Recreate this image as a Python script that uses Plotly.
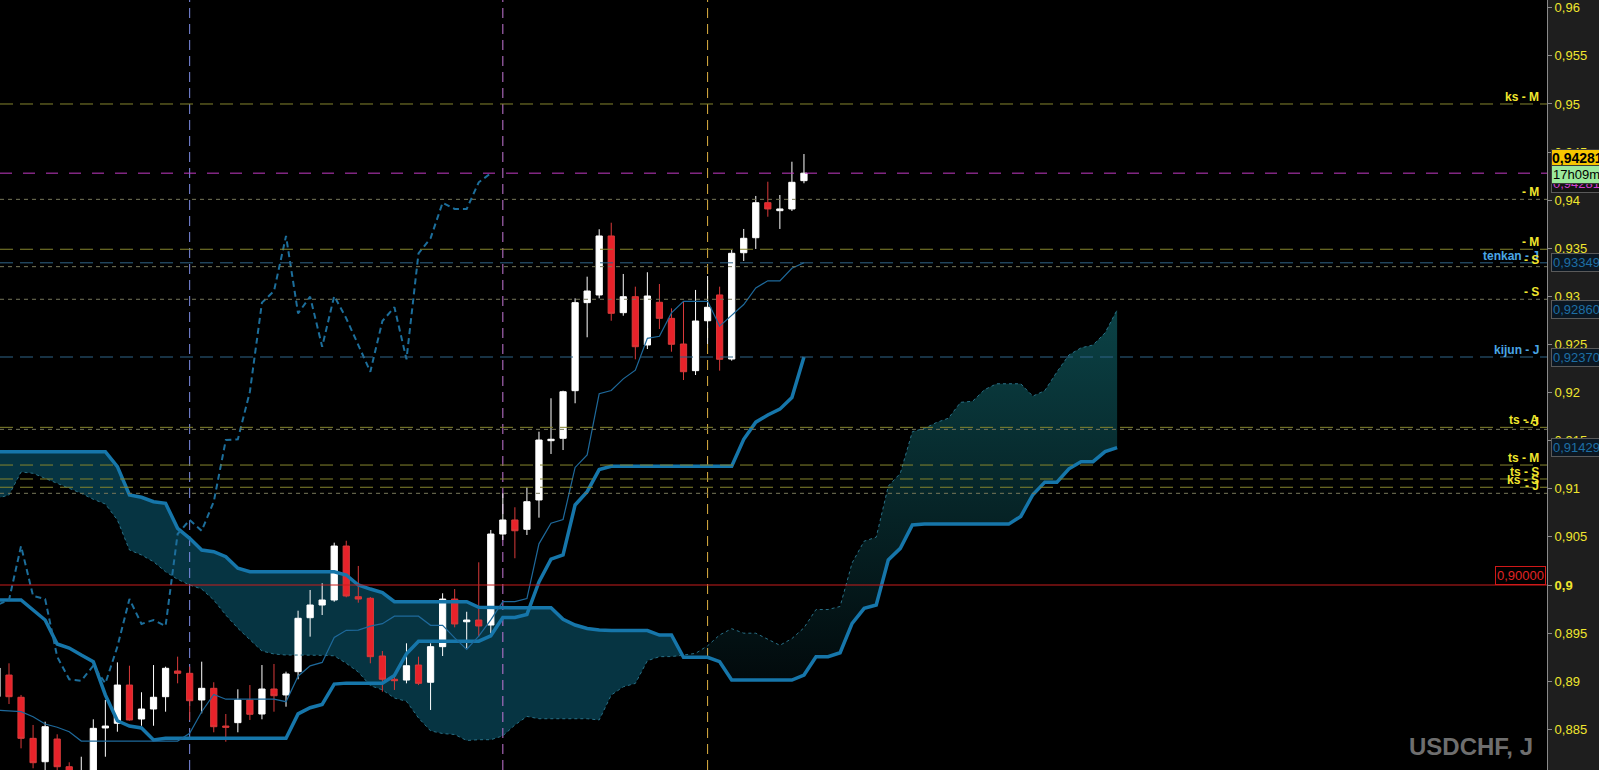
import plotly.graph_objects as go

# ---------------- data (daily USDCHF) ----------------
bars = list(range(-1, 67))
opens = [0.88840, 0.89064, 0.88833, 0.88406, 0.88163, 0.88399, 0.88111, 0.87750, 0.87900, 0.88514,
         0.88562, 0.88960, 0.88607, 0.88711, 0.88839, 0.89106, 0.89082, 0.88805, 0.88926, 0.88534,
         0.88569, 0.88805, 0.88659, 0.88919, 0.88857, 0.89099, 0.89660, 0.89792, 0.89844, 0.90405,
         0.89878, 0.89862, 0.89262, 0.89020, 0.89012, 0.89168, 0.88989, 0.89359, 0.89854, 0.89618,
         0.89636, 0.89584, 0.90530, 0.90676, 0.90579, 0.90884, 0.91500, 0.91525, 0.92020, 0.92935,
         0.93015, 0.93628, 0.92831, 0.92997, 0.92495, 0.92939, 0.92772, 0.92505, 0.92228, 0.92747,
         0.93015, 0.92349, 0.93454, 0.93610, 0.93974, 0.93891, 0.93909, 0.94203]
highs = [0.89200, 0.89186, 0.88857, 0.88545, 0.88579, 0.88448, 0.88157, 0.88215, 0.88604, 0.88805,
         0.89196, 0.89161, 0.88885, 0.89168, 0.89151, 0.89255, 0.89151, 0.89203, 0.88989, 0.88659,
         0.88916, 0.88960, 0.89168, 0.89179, 0.89099, 0.89733, 0.89948, 0.90018, 0.90440, 0.90460,
         0.90198, 0.89875, 0.89314, 0.89064, 0.89394, 0.89255, 0.89394, 0.89914, 0.89958, 0.89722,
         0.90236, 0.90572, 0.90953, 0.90808, 0.91016, 0.91594, 0.91941, 0.92020, 0.92980, 0.93205,
         0.93698, 0.93766, 0.93233, 0.93101, 0.93251, 0.93129, 0.92876, 0.92945, 0.93067, 0.93212,
         0.93101, 0.93482, 0.93701, 0.94044, 0.94192, 0.94054, 0.94400, 0.94480]
lows = [0.88700, 0.88763, 0.88302, 0.88095, 0.88040, 0.88050, 0.87700, 0.87500, 0.87660, 0.88215,
        0.88475, 0.88590, 0.88537, 0.88537, 0.88683, 0.88978, 0.88597, 0.88666, 0.88469, 0.88371,
        0.88469, 0.88597, 0.88604, 0.88683, 0.88735, 0.89020, 0.89463, 0.89688, 0.89826, 0.89872,
        0.89816, 0.89186, 0.88891, 0.88909, 0.88978, 0.88960, 0.88701, 0.89262, 0.89560, 0.89342,
        0.89463, 0.89498, 0.90468, 0.90278, 0.90520, 0.90700, 0.91362, 0.91403, 0.91889, 0.92575,
        0.92980, 0.92747, 0.92799, 0.92346, 0.92453, 0.92661, 0.92425, 0.92131, 0.92183, 0.92505,
        0.92228, 0.92332, 0.93368, 0.93493, 0.93828, 0.93701, 0.93888, 0.94176]
closes = [0.89137, 0.88839, 0.88406, 0.88153, 0.88527, 0.88111, 0.87750, 0.87900, 0.88510, 0.88534,
          0.88960, 0.88597, 0.88711, 0.88833, 0.89134, 0.89082, 0.88797, 0.88926, 0.88527, 0.88521,
          0.88805, 0.88656, 0.88919, 0.88849, 0.89075, 0.89654, 0.89792, 0.89844, 0.90405, 0.89886,
          0.89854, 0.89255, 0.89020, 0.89005, 0.89161, 0.88978, 0.89359, 0.89854, 0.89595, 0.89636,
          0.89574, 0.90530, 0.90676, 0.90564, 0.90866, 0.91507, 0.91515, 0.92009, 0.92935, 0.93056,
          0.93628, 0.92824, 0.92997, 0.92477, 0.93004, 0.92772, 0.92502, 0.92217, 0.92744, 0.92887,
          0.92346, 0.93448, 0.93604, 0.93974, 0.93909, 0.93909, 0.94186, 0.94281]

ichi_bars = list(range(-1, 67))
tenkan = [0.88700,
          0.88693, 0.88683, 0.88631, 0.88555, 0.88521, 0.88475, 0.88378, 0.88378, 0.88378, 0.88378,
          0.88378, 0.88378, 0.88378, 0.88378, 0.88378, 0.88458, 0.88683, 0.88862, 0.88813, 0.88813,
          0.88813, 0.88813, 0.88813, 0.88787, 0.89052, 0.89160, 0.89195, 0.89455, 0.89529, 0.89532,
          0.89572, 0.89598, 0.89676, 0.89676, 0.89676, 0.89581, 0.89581, 0.89450, 0.89330, 0.89469,
          0.89637, 0.89827, 0.89827, 0.89859, 0.90428, 0.90642, 0.90681, 0.91222, 0.91352, 0.91988,
          0.92022, 0.92143, 0.92233, 0.92564, 0.92585, 0.92828, 0.92949, 0.92949, 0.92949, 0.92691,
          0.92807, 0.92916, 0.93088, 0.93162, 0.93162, 0.93292, 0.93349]
kijun = [0.89844,
         0.89844, 0.89844, 0.89740, 0.89636, 0.89387, 0.89345, 0.89272, 0.89203, 0.88857, 0.88589,
         0.88534, 0.88514, 0.88389, 0.88406, 0.88406, 0.88406, 0.88406, 0.88406, 0.88406, 0.88406,
         0.88406, 0.88406, 0.88406, 0.88406, 0.88660, 0.88724, 0.88759, 0.88970, 0.88980, 0.88980,
         0.88980, 0.88980, 0.89060, 0.89286, 0.89416, 0.89416, 0.89416, 0.89416, 0.89416, 0.89416,
         0.89472, 0.89662, 0.89662, 0.89694, 0.90032, 0.90269, 0.90312, 0.90832, 0.90970, 0.91200,
         0.91234, 0.91234, 0.91234, 0.91234, 0.91234, 0.91234, 0.91234, 0.91234, 0.91234, 0.91234,
         0.91234, 0.91514, 0.91693, 0.91767, 0.91828, 0.91949, 0.92370]

cloud_bars = list(range(-1, 93))
senkou_a = [0.90900,
            0.90936, 0.91175, 0.91161, 0.91109, 0.91057, 0.91011, 0.90953, 0.90891, 0.90842, 0.90676,
            0.90364, 0.90312, 0.90242, 0.90138, 0.90059, 0.90000, 0.89958, 0.89844, 0.89688, 0.89550,
            0.89428, 0.89314, 0.89283, 0.89272, 0.89272, 0.89272, 0.89269, 0.89264, 0.89186, 0.89096,
            0.88954, 0.88910, 0.88825, 0.88791, 0.88618, 0.88484, 0.88456, 0.88446, 0.88384, 0.88392,
            0.88392, 0.88432, 0.88545, 0.88634, 0.88610, 0.88610, 0.88610, 0.88610, 0.88610, 0.88597,
            0.88856, 0.88942, 0.88977, 0.89213, 0.89255, 0.89256, 0.89276, 0.89289, 0.89368, 0.89481,
            0.89546, 0.89499, 0.89499, 0.89433, 0.89373, 0.89443, 0.89555, 0.89745, 0.89745, 0.89777,
            0.90230, 0.90456, 0.90497, 0.91027, 0.91161, 0.91594, 0.91628, 0.91689, 0.91734, 0.91899,
            0.91910, 0.92031, 0.92092, 0.92092, 0.92092, 0.91963, 0.92021, 0.92215, 0.92391, 0.92465,
            0.92495, 0.92621, 0.92860]
senkou_b = [0.91386,
            0.91386, 0.91386, 0.91386, 0.91386, 0.91386, 0.91386, 0.91386, 0.91386, 0.91386, 0.91230,
            0.90936, 0.90912, 0.90866, 0.90849, 0.90589, 0.90485, 0.90364, 0.90346, 0.90294, 0.90174,
            0.90138, 0.90138, 0.90138, 0.90138, 0.90138, 0.90138, 0.90138, 0.90138, 0.90104, 0.90000,
            0.89958, 0.89920, 0.89826, 0.89826, 0.89826, 0.89826, 0.89826, 0.89826, 0.89826, 0.89768,
            0.89764, 0.89764, 0.89764, 0.89764, 0.89764, 0.89764, 0.89643, 0.89584, 0.89548, 0.89532,
            0.89527, 0.89527, 0.89527, 0.89527, 0.89480, 0.89480, 0.89248, 0.89248, 0.89248, 0.89203,
            0.89012, 0.89012, 0.89012, 0.89012, 0.89012, 0.89012, 0.89064, 0.89255, 0.89255, 0.89296,
            0.89602, 0.89758, 0.89792, 0.90260, 0.90381, 0.90624, 0.90633, 0.90633, 0.90633, 0.90633,
            0.90633, 0.90633, 0.90633, 0.90633, 0.90713, 0.90938, 0.91069, 0.91069, 0.91208, 0.91282,
            0.91282, 0.91386, 0.91429]

chikou_shift = 26

tick_values = [0.885, 0.89, 0.895, 0.9, 0.905, 0.91, 0.915, 0.92, 0.925, 0.93, 0.935,
               0.94, 0.945, 0.95, 0.955, 0.96]
tick_labels = ["0,885", "0,89", "0,895", "<b>0,9</b>", "0,905", "0,91", "0,915", "0,92", "0,925",
               "0,93", "0,935", "0,94", "0,945", "0,95", "0,955", "0,96"]

level_prices = [0.95000, 0.94009, 0.93490, 0.93349, 0.93309, 0.92970, 0.92370,
                0.91639, 0.91618, 0.91247, 0.91102, 0.91016, 0.90953]
level_labels = ["ks - M", "- M", "- M", "tenkan - J", "- S", "- S", "kijun - J",
                "ts - A", "- J", "ts - M", "ts - S", "ks - S", "- J"]
level_kinds = ["long", "short", "long", "blue", "short", "short", "blue",
               "long", "short", "long", "long", "long", "short"]

separator_bars = [15, 41, 58]
separator_colors = ["#7f8fe6", "#c678d8", "#e0b243"]

bid_price = 0.94281
bid_text = "0,94281"
timer_text = "17h09m"
round_price = 0.90000
round_text = "0,90000"
value_box_prices = [0.93349, 0.92860, 0.92370, 0.91429]
value_box_texts = ["0,93349", "0,92860", "0,92370", "0,91429"]
symbol_text = "USDCHF, J"

x_range = [-0.747, 127.69]
y_range = [0.88077, 0.96081]

# ---------------- styles ----------------
FONT = "Liberation Sans"
YELLOW = "#f0e62e"
BLUE_TXT = "#4aa6e6"
ICHI = "rgb(22,118,170)"
kind_style = {
    "long": dict(color="#85852e", dash="13px,7px"),
    "short": dict(color="#77775a", dash="4px,4px"),
    "blue": dict(color="#2f6488", dash="13px,7px"),
}

fig = go.Figure()

# ----- base subplot: cloud fills and period separators -----
low_env = [min(a, b) for a, b in zip(senkou_a, senkou_b)]
fig.add_trace(go.Scatter(x=cloud_bars, y=low_env, mode="lines", line=dict(width=0),
                         hoverinfo="skip", showlegend=False))
fig.add_trace(go.Scatter(x=cloud_bars, y=senkou_b, mode="lines", line=dict(width=0),
                         fill="tonexty", fillcolor="rgb(6,52,66)",
                         hoverinfo="skip", showlegend=False))
fig.add_trace(go.Scatter(x=cloud_bars, y=low_env, mode="lines", line=dict(width=0),
                         hoverinfo="skip", showlegend=False))
fig.add_trace(go.Scatter(x=cloud_bars, y=senkou_a, mode="lines", line=dict(width=0),
                         fill="tonexty",
                         fillgradient=dict(type="vertical",
                                           colorscale=[[0, "rgb(2,10,12)"], [1, "rgb(11,66,70)"]],
                                           start=min(senkou_b[57:]), stop=max(senkou_a)),
                         hoverinfo="skip", showlegend=False))
for b, c in zip(separator_bars, separator_colors):
    fig.add_trace(go.Scatter(x=[b, b], y=y_range, mode="lines",
                             line=dict(color=c, width=1, dash="10px,6px"),
                             hoverinfo="skip", showlegend=False))

# ----- overlay subplot: candles and ichimoku lines (drawn above the cloud) -----
fig.add_trace(go.Candlestick(
    x=bars, open=opens, high=highs, low=lows, close=closes,
    increasing=dict(line=dict(color="#ffffff", width=1), fillcolor="#ffffff"),
    decreasing=dict(line=dict(color="#d83a3a", width=1), fillcolor="#e8222a"),
    whiskerwidth=0, hoverinfo="skip", showlegend=False, xaxis="x2", yaxis="y2"))

fig.add_trace(go.Scatter(x=cloud_bars, y=senkou_a, mode="lines", xaxis="x2", yaxis="y2",
                         line=dict(color="rgb(40,112,135)", width=1, dash="3px,3px"),
                         hoverinfo="skip", showlegend=False))
fig.add_trace(go.Scatter(x=cloud_bars, y=senkou_b, mode="lines", xaxis="x2", yaxis="y2",
                         line=dict(color=ICHI, width=3.5),
                         hoverinfo="skip", showlegend=False))
fig.add_trace(go.Scatter(x=ichi_bars, y=kijun, mode="lines", xaxis="x2", yaxis="y2",
                         line=dict(color=ICHI, width=3.5),
                         hoverinfo="skip", showlegend=False))
fig.add_trace(go.Scatter(x=ichi_bars, y=tenkan, mode="lines", xaxis="x2", yaxis="y2",
                         line=dict(color="rgb(30,105,155)", width=1.2),
                         hoverinfo="skip", showlegend=False))
chikou_x = [b - chikou_shift for b in bars if b - chikou_shift >= -2]
chikou_y = [c for b, c in zip(bars, closes) if b - chikou_shift >= -2]
fig.add_trace(go.Scatter(x=chikou_x, y=chikou_y, mode="lines", xaxis="x2", yaxis="y2",
                         line=dict(color="rgb(28,110,155)", width=2, dash="6px,4px"),
                         hoverinfo="skip", showlegend=False))

shapes = []
annotations = []
for p, lab, k in zip(level_prices, level_labels, level_kinds):
    st = kind_style[k]
    shapes.append(dict(type="line", xref="paper", x0=0, x1=1, yref="y", y0=p, y1=p,
                       line=dict(color=st["color"], width=1, dash=st["dash"]), layer="above"))
    annotations.append(dict(xref="paper", x=1, xanchor="right", xshift=-6,
                            yref="y", y=p, yanchor="bottom", yshift=-2, showarrow=False,
                            text="<b>%s</b>" % lab,
                            font=dict(family=FONT, size=12,
                                      color=BLUE_TXT if k == "blue" else YELLOW)))

# bid line & round-number line
shapes.append(dict(type="line", xref="paper", x0=0, x1=1, yref="y", y0=bid_price, y1=bid_price,
                   line=dict(color="#c23ac4", width=1, dash="12px,11px"), layer="above"))
shapes.append(dict(type="line", xref="paper", x0=0, x1=1, yref="y", y0=round_price, y1=round_price,
                   line=dict(color="#c81c1c", width=1), layer="above"))
annotations.append(dict(xref="paper", x=1, xanchor="right", xshift=-1, yref="y", y=round_price,
                        yanchor="bottom", showarrow=False, text=round_text,
                        font=dict(family=FONT, size=13, color="#e02424"),
                        bgcolor="#000000", bordercolor="#d01818", borderwidth=1, borderpad=1))

# value boxes on the axis
for p, t in zip(value_box_prices, value_box_texts):
    annotations.append(dict(xref="paper", x=1, xanchor="left", xshift=4, yref="y", y=p,
                            yanchor="middle", showarrow=False, text=t,
                            font=dict(family=FONT, size=13, color="#1d6fa5"),
                            bgcolor="#0b1722", bordercolor="#5a5a5a", borderwidth=1, borderpad=1))
annotations.append(dict(xref="paper", x=1, xanchor="left", xshift=4, yref="y", y=bid_price,
                        yanchor="middle", yshift=-10, showarrow=False, text=bid_text,
                        font=dict(family=FONT, size=13, color="#d040d0"),
                        bgcolor="#141414", bordercolor="#5a5a5a", borderwidth=1, borderpad=1))
annotations.append(dict(xref="paper", x=1, xanchor="left", xshift=4, yref="y", y=bid_price,
                        yanchor="middle", yshift=15, showarrow=False, text="<b>%s</b>" % bid_text,
                        font=dict(family=FONT, size=14, color="#000000"),
                        bgcolor="#f7c600", bordercolor="#3a3a3a", borderwidth=1, borderpad=0))
annotations.append(dict(xref="paper", x=1, xanchor="left", xshift=4, yref="y", y=bid_price,
                        yanchor="middle", yshift=-1, showarrow=False, text=timer_text,
                        font=dict(family=FONT, size=13, color="#000000"),
                        bgcolor="#9be89b", bordercolor="#3a3a3a", borderwidth=1, borderpad=1))

# symbol watermark
annotations.append(dict(xref="paper", x=1, xanchor="right", xshift=-12, yref="paper", y=0,
                        yanchor="bottom", yshift=8, showarrow=False, text="<b>%s</b>" % symbol_text,
                        font=dict(family=FONT, size=24, color="#6e6e6e")))

fig.update_layout(
    width=1599, height=770,
    margin=dict(l=0, r=52, t=0, b=0, pad=0),
    paper_bgcolor="#1e1e1e", plot_bgcolor="#000000",
    showlegend=False, hovermode=False, boxgap=0.26,
    font=dict(family=FONT),
    xaxis=dict(range=x_range, visible=False, showgrid=False, zeroline=False,
               rangeslider=dict(visible=False), fixedrange=True),
    yaxis=dict(range=y_range, side="right", tickvals=tick_values, ticktext=tick_labels,
               ticks="outside", ticklen=4, tickcolor="#8a8a8a", showline=True,
               linecolor="#8a8a8a", linewidth=1, showgrid=False, zeroline=False,
               tickfont=dict(family=FONT, size=13, color=YELLOW), fixedrange=True),
    xaxis2=dict(range=x_range, overlaying="x", visible=False, showgrid=False, zeroline=False,
                rangeslider=dict(visible=False), fixedrange=True),
    yaxis2=dict(range=y_range, overlaying="y", visible=False, showgrid=False, zeroline=False,
                fixedrange=True),
    shapes=shapes, annotations=annotations,
)

fig.write_html("out.html", config={"displayModeBar": False},
               post_script="document.body.style.margin='0';document.body.style.overflow='hidden';")
